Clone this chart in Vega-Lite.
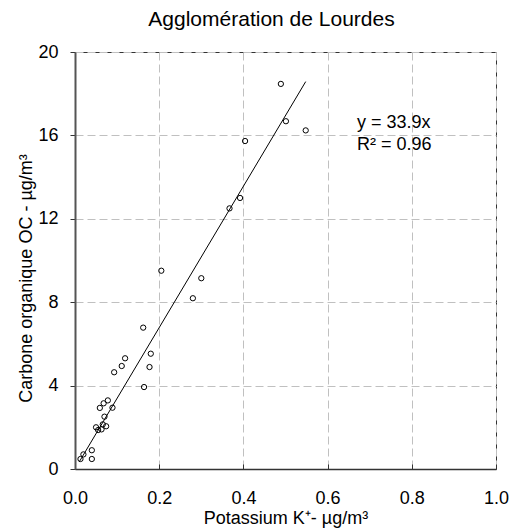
{
  "$schema": "https://vega.github.io/schema/vega-lite/v6.json",
  "autosize": {"type": "none"},
  "padding": {"left": 75, "top": 52, "right": 16, "bottom": 62},
  "width": 421,
  "height": 417,
  "title": {"text": "Agglomération de Lourdes", "font": "Liberation Sans", "fontSize": 21, "fontWeight": "normal", "color": "#000", "anchor": "middle", "dx": -14, "offset": 13},
  "config": {
    "view": {"stroke": "#333", "strokeWidth": 1},
    "axis": {"labelFont": "Liberation Sans", "titleFont": "Liberation Sans", "labelFontSize": 18, "titleFontSize": 18, "titleFontWeight": "normal", "labelColor": "#000", "titleColor": "#000", "domainColor": "#333", "tickColor": "#333", "gridColor": "#c0c0c0", "gridDash": [8, 4], "gridWidth": 1, "labelFlush": false, "labelOverlap": false}
  },
  "datasets": {
    "pts": [
      {"k": 0.489, "oc": 18.47},
      {"k": 0.501, "oc": 16.68},
      {"k": 0.548, "oc": 16.24},
      {"k": 0.404, "oc": 15.73},
      {"k": 0.392, "oc": 13.0},
      {"k": 0.367, "oc": 12.5},
      {"k": 0.205, "oc": 9.51},
      {"k": 0.300, "oc": 9.15},
      {"k": 0.280, "oc": 8.19},
      {"k": 0.162, "oc": 6.78},
      {"k": 0.180, "oc": 5.53},
      {"k": 0.177, "oc": 4.89},
      {"k": 0.164, "oc": 3.93},
      {"k": 0.119, "oc": 5.31},
      {"k": 0.111, "oc": 4.94},
      {"k": 0.093, "oc": 4.64},
      {"k": 0.059, "oc": 2.93},
      {"k": 0.068, "oc": 3.15},
      {"k": 0.078, "oc": 3.29},
      {"k": 0.089, "oc": 2.94},
      {"k": 0.070, "oc": 2.51},
      {"k": 0.050, "oc": 2.0},
      {"k": 0.055, "oc": 1.87},
      {"k": 0.063, "oc": 1.9},
      {"k": 0.066, "oc": 2.14},
      {"k": 0.074, "oc": 2.05},
      {"k": 0.020, "oc": 0.70},
      {"k": 0.013, "oc": 0.48},
      {"k": 0.040, "oc": 0.90},
      {"k": 0.040, "oc": 0.48}
    ],
    "fit": [
      {"k": 0.010, "oc": 0.34},
      {"k": 0.548, "oc": 18.58}
    ],
    "ann": [
      {"k": 0.67, "oc": 16.6, "label": "y = 33.9x"},
      {"k": 0.67, "oc": 15.55, "label": "R² = 0.96"}
    ]
  },
  "layer": [
    {
      "data": {"name": "pts"},
      "mark": {"type": "point", "shape": "circle", "filled": false, "stroke": "#000", "strokeWidth": 1, "size": 28, "opacity": 1},
      "encoding": {
        "x": {"field": "k", "type": "quantitative", "scale": {"domain": [0, 1], "nice": false}, "axis": {"title": "Potassium K⁺- µg/m³", "values": [0, 0.2, 0.4, 0.6, 0.8, 1.0], "format": ".1f", "tickSize": -5, "labelPadding": 25, "titlePadding": 2, "domainWidth": 1.5}},
        "y": {"field": "oc", "type": "quantitative", "scale": {"domain": [0, 20], "nice": false}, "axis": {"title": "Carbone organique OC - µg/m³", "values": [0, 4, 8, 12, 16, 20], "tickSize": 5, "labelPadding": 12, "titlePadding": 2, "titleY": 226, "domainWidth": 2, "domainColor": "#555"}}
      }
    },
    {
      "data": {"name": "fit"},
      "mark": {"type": "line", "color": "#000", "strokeWidth": 1},
      "encoding": {
        "x": {"field": "k", "type": "quantitative"},
        "y": {"field": "oc", "type": "quantitative"}
      }
    },
    {
      "data": {"name": "ann"},
      "mark": {"type": "text", "align": "left", "baseline": "middle", "font": "Liberation Sans", "fontSize": 18, "color": "#000"},
      "encoding": {
        "x": {"field": "k", "type": "quantitative"},
        "y": {"field": "oc", "type": "quantitative"},
        "text": {"field": "label"}
      }
    }
  ]
}
